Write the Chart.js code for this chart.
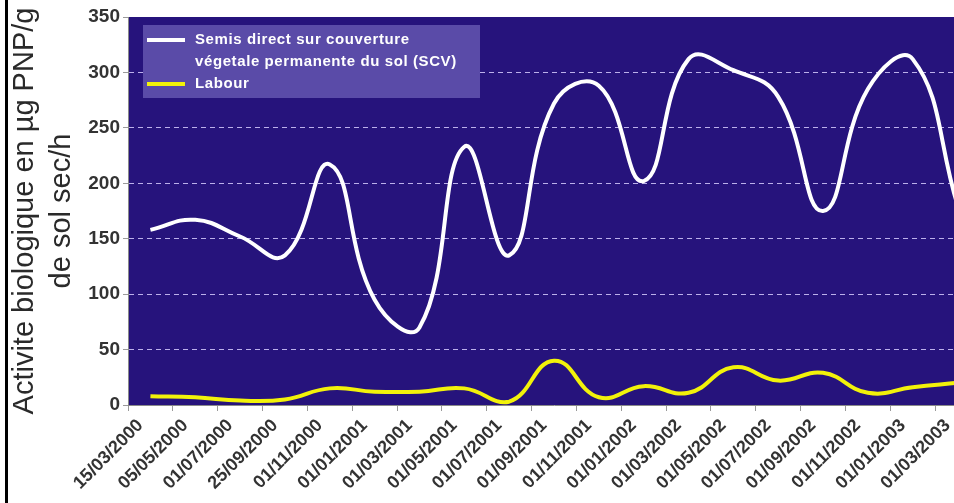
<!DOCTYPE html>
<html>
<head>
<meta charset="utf-8">
<script src="https://cdn.jsdelivr.net/npm/chart.js@4/dist/chart.umd.min.js"></script>
<style>
    html, body { margin: 0; padding: 0; background: #ffffff; overflow: hidden; }
    #wrap { position: relative; width: 984px; height: 503px; }
    #frame { position: absolute; left: 5px; top: 0; width: 3px; height: 503px; background: #000; }
</style>
</head>
<body>
<div id="wrap">
    <canvas id="myChart"></canvas>
    <div id="frame"></div>
</div>
<script>
/*** Data ***/
const dates = ["15/03/2000", "05/05/2000", "01/07/2000", "25/09/2000", "01/11/2000", "01/01/2001",
    "01/03/2001", "01/05/2001", "01/07/2001", "01/09/2001", "01/11/2001", "01/01/2002",
    "01/03/2002", "01/05/2002", "01/07/2002", "01/09/2002", "01/11/2002", "01/01/2003", "01/03/2003"];
const scvValues = [158, 167, 152, 135, 217, 95, 70, 233, 135, 272, 288, 202, 312, 302, 278, 175, 285, 312, 180];
const labourValues = [8, 7, 4, 5, 15, 12, 12, 15, 3, 40, 7, 17, 11, 34, 22, 29, 11, 16, 20];
const yTicks = [0, 50, 100, 150, 200, 250, 300, 350];
const seriesNames = [["Semis direct sur couverture", "végetale permanente du sol (SCV)"], ["Labour"]];
const axisTitle = ["Activite biologique en \u00b5g PNP/g", "de sol sec/h"];

const fontFamily = "'Liberation Sans', Arial, sans-serif";

// plot background
const plotBackground = {
    id: "plotBackground",
    beforeDraw(chart) {
        const { ctx, chartArea } = chart;
        ctx.save();
        ctx.fillStyle = "#26137c";
        ctx.fillRect(chartArea.left, chartArea.top, chartArea.right - chartArea.left, chartArea.bottom - chartArea.top);
        ctx.restore();
    }
};

// legend box drawn inside the plot, two line label for first series
const boxLegend = {
    id: "boxLegend",
    afterDraw(chart) {
        const { ctx, chartArea } = chart;
        const x = chartArea.left + 15;
        const y = chartArea.top + 8;
        ctx.save();
        ctx.fillStyle = "#5a4ba8";
        ctx.fillRect(x, y, 337, 73);
        ctx.font = "bold 15px " + fontFamily;
        ctx.letterSpacing = "0.6px";
        ctx.textBaseline = "middle";
        let rowY = y + 15;
        chart.data.datasets.forEach((ds, i) => {
            ctx.strokeStyle = ds.borderColor;
            ctx.lineWidth = 4;
            ctx.beginPath();
            ctx.moveTo(x + 4, rowY);
            ctx.lineTo(x + 42, rowY);
            ctx.stroke();
            ctx.fillStyle = "#ffffff";
            seriesNames[i].forEach((line) => {
                ctx.fillText(line, x + 52, rowY);
                rowY += 22;
            });
        });
        ctx.restore();
    }
};

function renderChart() {
    const chartData = {
        labels: dates,
        datasets: [{
            label: seriesNames[0].join(" "),
            data: scvValues,
            borderColor: "#ffffff",
            borderWidth: 4
        }, {
            label: seriesNames[1].join(" "),
            data: labourValues,
            borderColor: "#f2f20a",
            borderWidth: 4
        }]
    };

    const options = {
        responsive: true,
        maintainAspectRatio: false,
        animation: false,
        layout: { padding: { left: 0, top: 17, right: 4, bottom: 0 } },
        elements: {
            point: { radius: 0 },
            line: { tension: 0.45 }
        },
        plugins: {
            legend: { display: false },
            tooltip: { enabled: false }
        },
        scales: {
            x: {
                offset: true,
                grid: {
                    offset: true,
                    drawOnChartArea: false,
                    color: "#9a9a9a",
                    tickLength: 6
                },
                border: { color: "#8a8a8a" },
                ticks: {
                    autoSkip: false,
                    maxRotation: 45,
                    minRotation: 45,
                    labelOffset: -10,
                    padding: 4,
                    color: "#333333",
                    font: { family: fontFamily, size: 18, weight: "bold" }
                },
                afterFit(scale) { scale.height = 98; }
            },
            y: {
                min: 0,
                max: 350,
                afterBuildTicks(scale) { scale.ticks = yTicks.map(v => ({ value: v })); },
                grid: {
                    color: (c) => (c.tick && (c.tick.value === 0 || c.tick.value === 350)) ? "rgba(0,0,0,0)" : "rgba(215,205,255,0.85)",
                    tickBorderDash: [],
                    tickColor: "#9a9a9a",
                    tickLength: 5
                },
                border: { color: "#8a8a8a", dash: [5, 4] },
                ticks: {
                    padding: 3,
                    color: "#333333",
                    font: { family: fontFamily, size: 19, weight: "bold" }
                },
                title: {
                    display: true,
                    text: axisTitle,
                    color: "#2a2a2a",
                    padding: { top: 6, bottom: 0 },
                    font: { family: fontFamily, size: 29, lineHeight: 1.28 }
                },
                afterFit(scale) { scale.width = 128; }
            }
        }
    };

    const ctx = document.getElementById("myChart").getContext("2d");
    window.myChart = new Chart(ctx, {
        type: "line",
        data: chartData,
        options: options,
        plugins: [plotBackground, boxLegend]
    });
}
renderChart();
</script>
</body>
</html>
